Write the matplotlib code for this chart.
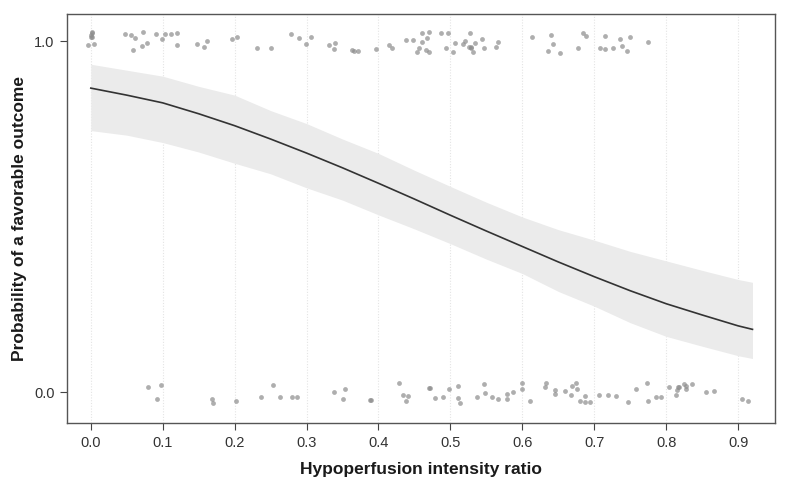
import matplotlib
matplotlib.use("Agg")
import matplotlib.pyplot as plt
import numpy as np

# fitted curve + 95% CI
curve_x = [0.00, 0.05, 0.10, 0.15, 0.20, 0.25, 0.30, 0.35, 0.40, 0.45,
           0.50, 0.55, 0.60, 0.65, 0.70, 0.75, 0.80, 0.85, 0.90, 0.92]
curve_p = [0.866, 0.846, 0.824, 0.793, 0.759, 0.721, 0.681, 0.639, 0.595, 0.550,
           0.504, 0.459, 0.415, 0.371, 0.329, 0.289, 0.252, 0.220, 0.189, 0.179]
upper_p = [0.934, 0.917, 0.900, 0.871, 0.846, 0.802, 0.765, 0.721, 0.680, 0.632,
           0.586, 0.541, 0.499, 0.463, 0.433, 0.401, 0.374, 0.347, 0.321, 0.313]
lower_p = [0.745, 0.732, 0.711, 0.684, 0.652, 0.622, 0.582, 0.547, 0.505, 0.465,
           0.423, 0.379, 0.338, 0.287, 0.245, 0.198, 0.159, 0.131, 0.104, 0.096]

# jittered observations, favorable outcome (y ~ 1)
fav_x = [0.001, 0.001, 0.000, 0.000, 0.002, -0.004, 0.004, 0.047, 0.056, 0.061,
         0.073, 0.058, 0.071, 0.078, 0.090, 0.099, 0.103, 0.111, 0.120, 0.120,
         0.147, 0.157, 0.162, 0.196, 0.203, 0.231, 0.251, 0.278, 0.289, 0.306,
         0.299, 0.331, 0.339, 0.338, 0.363, 0.366, 0.371, 0.396, 0.415, 0.419,
         0.438, 0.448, 0.461, 0.470, 0.468, 0.461, 0.456, 0.454, 0.466, 0.470,
         0.487, 0.497, 0.494, 0.504, 0.507, 0.517, 0.520, 0.527, 0.526, 0.528,
         0.529, 0.531, 0.534, 0.544, 0.547, 0.563, 0.566, 0.614, 0.640, 0.643,
         0.635, 0.653, 0.684, 0.688, 0.678, 0.715, 0.708, 0.715, 0.726, 0.736,
         0.749, 0.739, 0.746, 0.775]
fav_y = [1.027, 1.022, 1.017, 1.012, 1.011, 0.989, 0.993, 1.019, 1.016, 1.009,
         1.027, 0.974, 0.986, 0.995, 1.019, 1.006, 1.020, 1.019, 1.024, 0.990,
         0.992, 0.984, 1.000, 1.005, 1.011, 0.980, 0.979, 1.020, 1.009, 1.011,
         0.993, 0.988, 0.995, 0.977, 0.974, 0.973, 0.972, 0.977, 0.989, 0.979,
         1.002, 1.003, 1.022, 1.027, 1.009, 0.996, 0.981, 0.969, 0.974, 0.969,
         1.022, 1.022, 0.981, 0.970, 0.995, 0.993, 1.000, 1.022, 0.984, 0.981,
         0.982, 0.969, 0.995, 1.006, 0.979, 0.984, 0.998, 1.012, 1.018, 0.993,
         0.972, 0.967, 1.024, 1.015, 0.981, 1.015, 0.981, 0.978, 0.979, 1.005,
         1.011, 0.987, 0.973, 0.997]

# jittered observations, unfavorable outcome (y ~ 0)
unf_x = [0.080, 0.097, 0.092, 0.169, 0.170, 0.202, 0.237, 0.253, 0.263, 0.280,
         0.287, 0.338, 0.350, 0.354, 0.388, 0.389, 0.429, 0.434, 0.441, 0.438,
         0.470, 0.471, 0.478, 0.489, 0.498, 0.510, 0.510, 0.514, 0.537, 0.547,
         0.548, 0.558, 0.566, 0.578, 0.578, 0.587, 0.599, 0.599, 0.611, 0.631,
         0.633, 0.646, 0.646, 0.660, 0.667, 0.669, 0.674, 0.676, 0.680, 0.687,
         0.694, 0.687, 0.706, 0.719, 0.730, 0.747, 0.758, 0.774, 0.775, 0.786,
         0.793, 0.804, 0.813, 0.815, 0.817, 0.818, 0.825, 0.828, 0.827, 0.836,
         0.855, 0.866, 0.905, 0.914]
unf_y = [0.015, 0.021, -0.019, -0.019, -0.030, -0.025, -0.014, 0.020, -0.014, -0.015,
         -0.015, 0.002, -0.019, 0.008, -0.021, -0.021, 0.025, -0.008, -0.011, -0.025,
         0.012, 0.012, -0.017, -0.014, 0.009, 0.018, -0.017, -0.032, -0.014, 0.022,
         -0.002, -0.015, -0.019, -0.004, -0.020, 0.000, 0.025, 0.009, -0.025, 0.014,
         0.025, 0.007, -0.005, 0.003, -0.007, 0.017, 0.025, 0.008, -0.024, -0.028,
         -0.028, -0.012, -0.008, -0.008, -0.011, -0.028, 0.008, 0.025, -0.026, -0.015,
         -0.015, 0.015, -0.008, 0.006, 0.015, 0.016, 0.023, 0.017, 0.009, 0.023,
         0.000, 0.004, -0.020, -0.025]

x_ticks = [0.0, 0.1, 0.2, 0.3, 0.4, 0.5, 0.6, 0.7, 0.8, 0.9]
y_ticks = [0.0, 1.0]

plt.rcParams['font.family'] = ['Liberation Sans', 'DejaVu Sans']

fig = plt.figure(figsize=(7.89, 4.92), dpi=100)
ax = fig.add_axes([0.085, 0.140, 0.897, 0.8315])

for t in x_ticks:
    ax.axvline(t, color='#e4e4e4', lw=0.8, ls=(0, (1, 1.5)), zorder=0)

ax.fill_between(curve_x, lower_p, upper_p, color='#ebebeb', lw=0, zorder=1)
ax.plot(curve_x, curve_p, color='#333333', lw=1.2, zorder=2)

ax.scatter(fav_x, fav_y, s=12, color='#8c8c8c', alpha=0.7, lw=0, zorder=3)
ax.scatter(unf_x, unf_y, s=12, color='#8c8c8c', alpha=0.7, lw=0, zorder=3)

ax.set_xlim(-0.033, 0.951)
ax.set_ylim(-0.088, 1.077)
ax.set_xticks(x_ticks)
ax.set_xticklabels([f"{t:.1f}" for t in x_ticks])
ax.set_yticks(y_ticks)
ax.set_yticklabels([f"{t:.1f}" for t in y_ticks])
ax.tick_params(direction='out', length=5, width=0.8, color='#444444',
               labelsize=10.5, labelcolor='#333333', pad=4)
for sp in ax.spines.values():
    sp.set_color('#555555')
    sp.set_linewidth(1.0)

ax.set_xlabel('Hypoperfusion intensity ratio', fontsize=12.5, fontweight='bold',
              color='#1a1a1a', labelpad=9)
ax.set_ylabel('Probability of a favorable outcome', fontsize=12.5, fontweight='bold',
              color='#1a1a1a', labelpad=5)

fig.savefig('out.png', dpi=100)
